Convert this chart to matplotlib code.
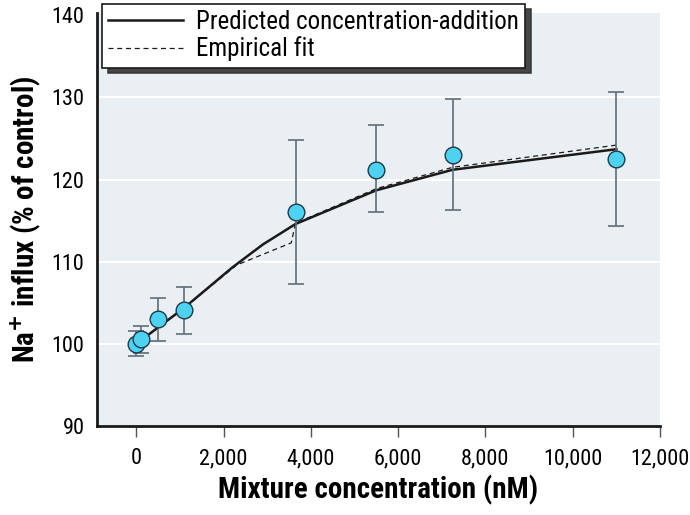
import numpy as np
import matplotlib.pyplot as plt
from matplotlib import font_manager

# Measured data (mean +/- error)
conc = [0, 100, 500, 1100, 3650, 5500, 7250, 11000]
influx = [100.0, 100.6, 103.0, 104.1, 116.1, 121.2, 123.0, 122.5]
err_low = [98.5, 98.9, 100.4, 101.2, 107.3, 116.0, 116.3, 114.4]
err_high = [101.6, 102.2, 105.6, 106.9, 124.8, 126.7, 129.8, 130.7]

# Predicted concentration-addition curve
pred_x = [0, 100, 500, 1100, 2200, 2900, 3650, 5500, 7250, 11000]
pred_y = [100.0, 100.4, 102.0, 104.4, 109.3, 112.1, 114.6, 118.7, 121.2, 123.7]

# Empirical fit
fit_x = [0, 100, 500, 1100, 2300, 3550, 3650, 5500, 7250, 11000]
fit_y = [100.0, 100.4, 102.0, 104.4, 109.6, 112.3, 114.7, 118.9, 121.5, 124.2]

# pick a narrow font if one is around
names = set(f.name for f in font_manager.fontManager.ttflist)
narrow = None
for cand in ['Liberation Sans Narrow', 'Roboto Condensed', 'Open Sans Condensed',
             'DejaVu Sans Condensed', 'Noto Sans Condensed']:
    if cand in names:
        narrow = cand
        break
stretch = 'normal'
if narrow is None:
    narrow = 'DejaVu Sans'
    stretch = 'condensed'
plt.rcParams['font.family'] = [narrow, 'DejaVu Sans']
plt.rcParams['font.stretch'] = stretch

fig = plt.figure(figsize=(6.9, 5.15), dpi=100)
ax = fig.add_axes([0.1406, 0.1728, 0.8159, 0.8022])
ax.set_facecolor('#eaeff3')

for yv in [100, 110, 120, 130]:
    ax.axhline(yv, color='white', lw=1.5, zorder=0)

ax.plot(pred_x, pred_y, '-', color='#1a1a1a', lw=1.8, zorder=2,
        label='Predicted concentration-addition')
ax.plot(fit_x, fit_y, '--', color='#1a1a1a', lw=0.9, dashes=(4, 3), zorder=2,
        label='Empirical fit')

yerr = [np.array(influx) - np.array(err_low), np.array(err_high) - np.array(influx)]
ax.errorbar(conc, influx, yerr=yerr, fmt='none', ecolor='#5f6e78', elinewidth=1.2,
            capsize=6, capthick=1.2, zorder=3)
ax.plot(conc, influx, 'o', ms=12, mfc='#4dd2f2', mec='#1f3a48', mew=1.0, zorder=4)

ax.set_xlim(-900, 12000)
ax.set_ylim(90, 140.3)
ax.set_xticks(range(0, 12001, 2000))
ax.set_xticklabels(['0', '2,000', '4,000', '6,000', '8,000', '10,000', '12,000'])
ax.set_yticks(range(90, 141, 10))
ax.tick_params(axis='x', length=8, width=1, color='#555555', labelsize=16, pad=8)
ax.tick_params(axis='y', length=0, labelsize=16, pad=9)

for s in ['top', 'right']:
    ax.spines[s].set_visible(False)
for s in ['left', 'bottom']:
    ax.spines[s].set_linewidth(2)
    ax.spines[s].set_color('#1a1a1a')

ax.set_xlabel('Mixture concentration (nM)', fontsize=21, fontweight='bold', labelpad=4)
ax.set_ylabel('Na$^{\\mathbf{+}}$ influx (% of control)', fontsize=21, fontweight='bold', labelpad=6)

leg = ax.legend(loc='upper left', bbox_to_anchor=(0.148, 0.993),
                bbox_transform=fig.transFigure, fancybox=False,
                shadow={'ox': 4, 'oy': -4, 'color': '#333333', 'alpha': 0.9},
                frameon=True, edgecolor='#1a1a1a', fontsize=18, handlelength=3.0,
                handletextpad=0.5, borderpad=0.25, labelspacing=0.1, borderaxespad=0)
leg.get_frame().set_linewidth(1.2)
leg.get_frame().set_alpha(1)

fig.savefig('out.png', dpi=100)
